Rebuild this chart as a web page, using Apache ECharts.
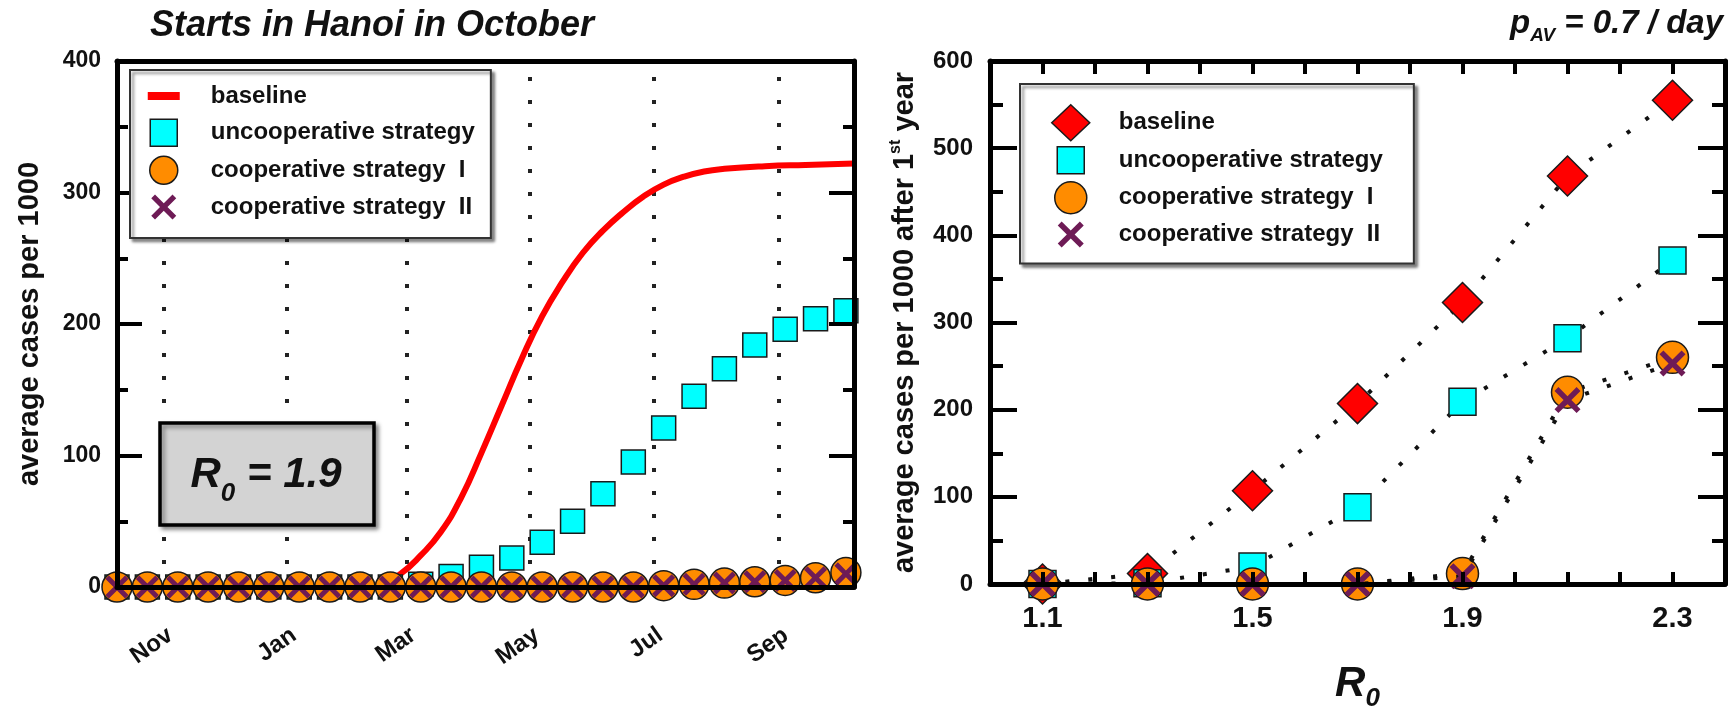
<!DOCTYPE html>
<html><head><meta charset="utf-8">
<script src="https://cdn.jsdelivr.net/npm/echarts@6/dist/echarts.min.js"></script>
<style>html,body{margin:0;padding:0;background:#fff}#c{width:1731px;height:717px}</style>
</head><body><div id="c"></div>
<script>
// ---------- Left panel: starts in Hanoi in October, R0 = 1.9 (x = days since start) ----------
const monthTickDays   = [23, 84, 143, 204, 265, 327];
const monthTickLabels = ['Nov', 'Jan', 'Mar', 'May', 'Jul', 'Sep'];
const baselineDays  = [0, 60, 120, 130, 140, 150, 160, 170, 180, 190, 200, 210, 220, 230, 240, 250, 260, 270, 280, 290, 300, 320, 340, 364];
const baselineCases = [0, 0, 0, 2, 10, 24, 42, 68, 102, 138, 174, 206, 232, 254, 271, 285, 297, 306, 312, 316, 318, 320, 321, 322];
const markerDays  = [0, 15, 30, 45, 60, 75, 90, 105, 120, 135, 150, 165, 180, 195, 210, 225, 240, 255, 270, 285, 300, 315, 330, 345, 360];
const uncoopCases = [0, 0, 0, 0, 0, 0, 0, 0, 0, 0, 2, 8, 15, 22, 34, 50, 71, 95, 121, 145, 166, 184, 196, 204, 210];
const coop1Cases  = [0, 0, 0, 0, 0, 0, 0, 0, 0, 0, 0, 0, 0, 0, 0, 0, 0, 0, 1, 2, 3, 4, 5, 7, 11];
const coop2Cases  = [0, 0, 0, 0, 0, 0, 0, 0, 0, 0, 0, 0, 0, 0, 0, 0, 0, 0, 1, 2, 3, 4, 5, 7, 10];

// ---------- Right panel: cases after 1st year vs R0 ----------
const r0Values     = [1.1, 1.3, 1.5, 1.7, 1.9, 2.1, 2.3];
const r0TickLabels = [1.1, 1.5, 1.9, 2.3];
const baselineByR0 = [0, 12, 107, 207, 323, 468, 555];
const uncoopByR0   = [0, 1, 20, 88, 209, 282, 371];
const coop1ByR0    = [0, 0, 0, 0, 12, 220, 260];
const coop2ByR0    = [0, 0, 0, 0, 9, 211, 253];

const seriesNames = ['baseline', 'uncooperative strategy', 'cooperative strategy  I', 'cooperative strategy  II'];

// ---------- styling ----------
const FONT = '"Liberation Sans", Arial, sans-serif';
const TXT = '#111';
const C_RED = '#ff0000', C_CYAN = '#00ffff', C_ORANGE = '#ff8c00', C_PURPLE = '#6e1b56', C_EDGE = '#1a1a1a';
const X_SYMBOL = 'path://M0 3 L3 0 L10 7 L17 0 L20 3 L13 10 L20 17 L17 20 L10 13 L3 20 L0 17 L7 10 Z';
const X_PTS = [[0,3],[3,0],[10,7],[17,0],[20,3],[13,10],[20,17],[17,20],[10,13],[3,20],[0,17],[7,10]];
function boxed(w, h, body) { return 'path://M0 0 M' + w + ' ' + h + ' ' + body; }
function xIcon(w, h, size) {
  const s = size / 20, ox = (w - size) / 2, oy = (h - size) / 2;
  return boxed(w, h, 'M' + X_PTS.map(p => (ox + p[0] * s).toFixed(2) + ' ' + (oy + p[1] * s).toFixed(2)).join(' L') + ' Z');
}
function rectIcon(w, h, size) {
  const x0 = (w - size) / 2, y0 = (h - size) / 2;
  return boxed(w, h, 'M' + x0 + ' ' + y0 + ' H' + (x0 + size) + ' V' + (y0 + size) + ' H' + x0 + ' Z');
}
function circleIcon(w, h, r) {
  const cx = w / 2, cy = h / 2;
  return boxed(w, h, 'M' + (cx + r) + ' ' + cy + ' A' + r + ' ' + r + ' 0 1 1 ' + (cx - r) + ' ' + cy + ' A' + r + ' ' + r + ' 0 1 1 ' + (cx + r) + ' ' + cy + ' Z');
}

const axisLine = { show: true, onZero: false, lineStyle: { color: '#000', width: 5 } };
const tickStyle = { color: '#000', width: 4 };
const dotted = { color: '#111', width: 4, type: [4, 19] };

function pairs(xs, ys) { return xs.map((x, i) => [x, ys[i]]); }

const legendCommon = {
  orient: 'vertical', z: 10, selectedMode: false,
  backgroundColor: '#fff', borderColor: '#333', borderWidth: 2,
  shadowColor: 'rgba(0,0,0,0.45)', shadowBlur: 3, shadowOffsetX: 3, shadowOffsetY: 3
};

const option = {
  animation: false,
  backgroundColor: '#fff',
  title: [
    { text: 'Starts in Hanoi in October', left: 150, top: 8, padding: 0,
      textStyle: { fontSize: 36, fontWeight: 'bold', fontStyle: 'italic', color: TXT, fontFamily: FONT } },
    { text: '{p|p}{s|AV}{p| = 0.7 / day}', right: 8, top: 3, padding: 0,
      textStyle: { rich: {
        p: { fontSize: 33, fontWeight: 'bold', fontStyle: 'italic', color: TXT, fontFamily: FONT, lineHeight: 42 },
        s: { fontSize: 19, fontWeight: 'bold', fontStyle: 'italic', color: TXT, fontFamily: FONT, lineHeight: 12, verticalAlign: 'bottom' }
      } } }
  ],
  legend: [
    Object.assign({}, legendCommon, {
      left: 130, top: 70, padding: [12, 16, 17, 16], itemGap: 8, itemWidth: 34, itemHeight: 28,
      textStyle: { fontSize: 24, fontWeight: 'bold', color: TXT, fontFamily: FONT, padding: [0, 0, 0, 25] },
      data: [
        { name: seriesNames[0], icon: boxed(34, 28, 'M1 10 H33 V18 H1 Z'), itemStyle: { color: C_RED, borderWidth: 0 } },
        { name: seriesNames[1], icon: rectIcon(34, 28, 27), itemStyle: { color: C_CYAN, borderColor: C_EDGE, borderWidth: 1.5 } },
        { name: seriesNames[2], icon: circleIcon(34, 28, 14), itemStyle: { color: C_ORANGE, borderColor: C_EDGE, borderWidth: 1.5 } },
        { name: seriesNames[3], icon: xIcon(34, 28, 25), itemStyle: { color: C_PURPLE, borderWidth: 0 } }
      ]
    }),
    Object.assign({}, legendCommon, {
      left: 1020, top: 84, padding: [20, 31, 11, 30], itemGap: 0, itemWidth: 40, itemHeight: 36,
      textStyle: { fontSize: 24, fontWeight: 'bold', color: TXT, fontFamily: FONT, padding: [0, 0, 0, 23] },
      data: [
        { name: seriesNames[0], icon: boxed(40, 36, 'M20 0 L39 18 L20 36 L1 18 Z'), itemStyle: { color: C_RED, borderColor: C_EDGE, borderWidth: 1.5 } },
        { name: seriesNames[1], icon: rectIcon(40, 36, 27), itemStyle: { color: C_CYAN, borderColor: C_EDGE, borderWidth: 1.5 } },
        { name: seriesNames[2], icon: circleIcon(40, 36, 16), itemStyle: { color: C_ORANGE, borderColor: C_EDGE, borderWidth: 1.5 } },
        { name: seriesNames[3], icon: xIcon(40, 36, 26), itemStyle: { color: C_PURPLE, borderWidth: 0 } }
      ]
    })
  ],
  grid: [
    { left: 117, right: 877, top: 61, bottom: 130 },
    { left: 990, right: 6, top: 61, bottom: 130 }
  ],
  xAxis: [
    { gridIndex: 0, type: 'value', min: 0, max: 364, z: 6, axisLine: axisLine,
      axisTick: { show: false },
      axisLabel: { customValues: monthTickDays,
        formatter: v => { const i = monthTickDays.indexOf(Math.round(v)); return i >= 0 ? monthTickLabels[i] : ''; },
        rotate: 35, align: 'right', verticalAlign: 'top', margin: 36,
        fontSize: 24, fontWeight: 'bold', color: TXT, fontFamily: FONT },
      splitLine: { show: false } },
    { gridIndex: 0, type: 'value', position: 'top', min: 0, max: 364, z: 6, axisLine: axisLine,
      axisTick: { show: false }, axisLabel: { show: false }, splitLine: { show: false } },
    { gridIndex: 1, type: 'value', min: 1.0, max: 2.4, interval: 0.1, z: 6, axisLine: axisLine,
      axisTick: { show: true, inside: true, length: 12, lineStyle: tickStyle },
      axisLabel: { formatter: v => { const r = Math.round(v * 10) / 10; return r0TickLabels.indexOf(r) >= 0 ? r.toFixed(1) : ''; },
        margin: 20, fontSize: 29, fontWeight: 'bold', color: TXT, fontFamily: FONT },
      splitLine: { show: false },
      name: '{r|R}{s|0}', nameLocation: 'middle', nameGap: 72,
      nameTextStyle: { rich: {
        r: { fontSize: 42, fontWeight: 'bold', fontStyle: 'italic', color: TXT, fontFamily: FONT, lineHeight: 56 },
        s: { fontSize: 26, fontWeight: 'bold', fontStyle: 'italic', color: TXT, fontFamily: FONT, lineHeight: 22, verticalAlign: 'bottom' }
      } } },
    { gridIndex: 1, type: 'value', position: 'top', min: 1.0, max: 2.4, interval: 0.1, z: 6, axisLine: axisLine,
      axisTick: { show: true, inside: true, length: 13, lineStyle: tickStyle },
      axisLabel: { show: false }, splitLine: { show: false } }
  ],
  yAxis: [
    { gridIndex: 0, type: 'value', min: 0, max: 400, interval: 100, z: 6, axisLine: axisLine,
      axisTick: { show: true, inside: true, length: 25, lineStyle: tickStyle },
      minorTick: { show: true, splitNumber: 2, length: 11, lineStyle: tickStyle },
      axisLabel: { margin: 16, fontSize: 23, fontWeight: 'bold', color: TXT, fontFamily: FONT },
      splitLine: { show: false }, minorSplitLine: { show: false },
      name: 'average cases per 1000', nameLocation: 'middle', nameRotate: 90, nameGap: 73,
      nameTextStyle: { fontSize: 29, fontWeight: 'bold', color: TXT, fontFamily: FONT } },
    { gridIndex: 0, type: 'value', position: 'right', min: 0, max: 400, interval: 100, z: 6, axisLine: axisLine,
      axisTick: { show: true, inside: true, length: 25, lineStyle: tickStyle },
      minorTick: { show: true, splitNumber: 2, length: 11, lineStyle: tickStyle },
      axisLabel: { show: false }, splitLine: { show: false } },
    { gridIndex: 1, type: 'value', min: 0, max: 600, interval: 100, z: 6, axisLine: axisLine,
      axisTick: { show: true, inside: true, length: 27, lineStyle: tickStyle },
      minorTick: { show: true, splitNumber: 2, length: 13, lineStyle: tickStyle },
      axisLabel: { margin: 17, fontSize: 24, fontWeight: 'bold', color: TXT, fontFamily: FONT },
      splitLine: { show: false }, minorSplitLine: { show: false },
      name: 'average cases per 1000 after 1{sup|st} year', nameLocation: 'middle', nameRotate: 90, nameGap: 68,
      nameTextStyle: { fontSize: 29, fontWeight: 'bold', color: TXT, fontFamily: FONT, lineHeight: 34,
        rich: { sup: { fontSize: 16, fontWeight: 'bold', color: TXT, fontFamily: FONT, lineHeight: 16, verticalAlign: 'top' } } } },
    { gridIndex: 1, type: 'value', position: 'right', min: 0, max: 600, interval: 100, z: 6, axisLine: axisLine,
      axisTick: { show: true, inside: true, length: 27, lineStyle: tickStyle },
      minorTick: { show: true, splitNumber: 2, length: 13, lineStyle: tickStyle },
      axisLabel: { show: false }, splitLine: { show: false } }
  ],
  graphic: [
    { type: 'rect', z: 10, shape: { x: 160, y: 423, width: 214, height: 102 },
      style: { fill: '#d3d3d3', stroke: '#000', lineWidth: 3.5, shadowBlur: 4, shadowOffsetX: 3, shadowOffsetY: 3, shadowColor: 'rgba(0,0,0,0.4)' } },
    { type: 'text', z: 11, x: 266, y: 475,
      style: { text: '{r|R}{s|0}{r| = 1.9}', align: 'center', verticalAlign: 'middle',
        rich: {
          r: { fontSize: 42, fontWeight: 'bold', fontStyle: 'italic', fill: TXT, fontFamily: FONT, lineHeight: 64 },
          s: { fontSize: 26, fontWeight: 'bold', fontStyle: 'italic', fill: TXT, fontFamily: FONT, lineHeight: 20, verticalAlign: 'bottom' }
        } } }
  ],
  series: [
    // left panel
    { name: seriesNames[0], type: 'line', xAxisIndex: 0, yAxisIndex: 0, z: 2,
      data: pairs(baselineDays, baselineCases), smooth: 0.5, symbol: 'none', showSymbol: false,
      lineStyle: { color: C_RED, width: 6 }, itemStyle: { color: C_RED },
      markLine: { silent: true, z: 1, symbol: 'none', label: { show: false },
        lineStyle: { color: '#222', width: 4, type: [4, 19] },
        data: monthTickDays.map(d => ({ xAxis: d })) } },
    { name: seriesNames[1], type: 'scatter', xAxisIndex: 0, yAxisIndex: 0, z: 3, clip: false,
      data: pairs(markerDays, uncoopCases), symbol: 'rect', symbolSize: 24,
      itemStyle: { color: C_CYAN, borderColor: C_EDGE, borderWidth: 1.5, opacity: 1 } },
    { name: seriesNames[2], type: 'scatter', xAxisIndex: 0, yAxisIndex: 0, z: 4, clip: false,
      data: pairs(markerDays, coop1Cases), symbol: 'circle', symbolSize: 30,
      itemStyle: { color: C_ORANGE, borderColor: C_EDGE, borderWidth: 1.5, opacity: 1 } },
    { name: seriesNames[3], type: 'scatter', xAxisIndex: 0, yAxisIndex: 0, z: 5, clip: false,
      data: pairs(markerDays, coop2Cases), symbol: X_SYMBOL, symbolSize: 23,
      itemStyle: { color: C_PURPLE, opacity: 1 } },
    // right panel
    { name: seriesNames[0], type: 'line', xAxisIndex: 2, yAxisIndex: 2, z: 3, clip: false,
      data: pairs(r0Values, baselineByR0), symbol: 'diamond', symbolSize: 40, showAllSymbol: true,
      lineStyle: dotted, itemStyle: { color: C_RED, borderColor: C_EDGE, borderWidth: 1.5 } },
    { name: seriesNames[1], type: 'line', xAxisIndex: 2, yAxisIndex: 2, z: 3, clip: false,
      data: pairs(r0Values, uncoopByR0), symbol: 'rect', symbolSize: 27, showAllSymbol: true,
      lineStyle: dotted, itemStyle: { color: C_CYAN, borderColor: C_EDGE, borderWidth: 1.5 } },
    { name: seriesNames[2], type: 'line', xAxisIndex: 2, yAxisIndex: 2, z: 4, clip: false,
      data: pairs(r0Values, coop1ByR0), symbol: 'circle', symbolSize: 32, showAllSymbol: true,
      lineStyle: dotted, itemStyle: { color: C_ORANGE, borderColor: C_EDGE, borderWidth: 1.5 } },
    { name: seriesNames[3], type: 'line', xAxisIndex: 2, yAxisIndex: 2, z: 5, clip: false,
      data: pairs(r0Values, coop2ByR0), symbol: X_SYMBOL, symbolSize: 26, showAllSymbol: true,
      lineStyle: dotted, itemStyle: { color: C_PURPLE } }
  ]
};

const chart = echarts.init(document.getElementById('c'), null, { renderer: 'canvas' });
chart.setOption(option);
</script>
</body></html>
